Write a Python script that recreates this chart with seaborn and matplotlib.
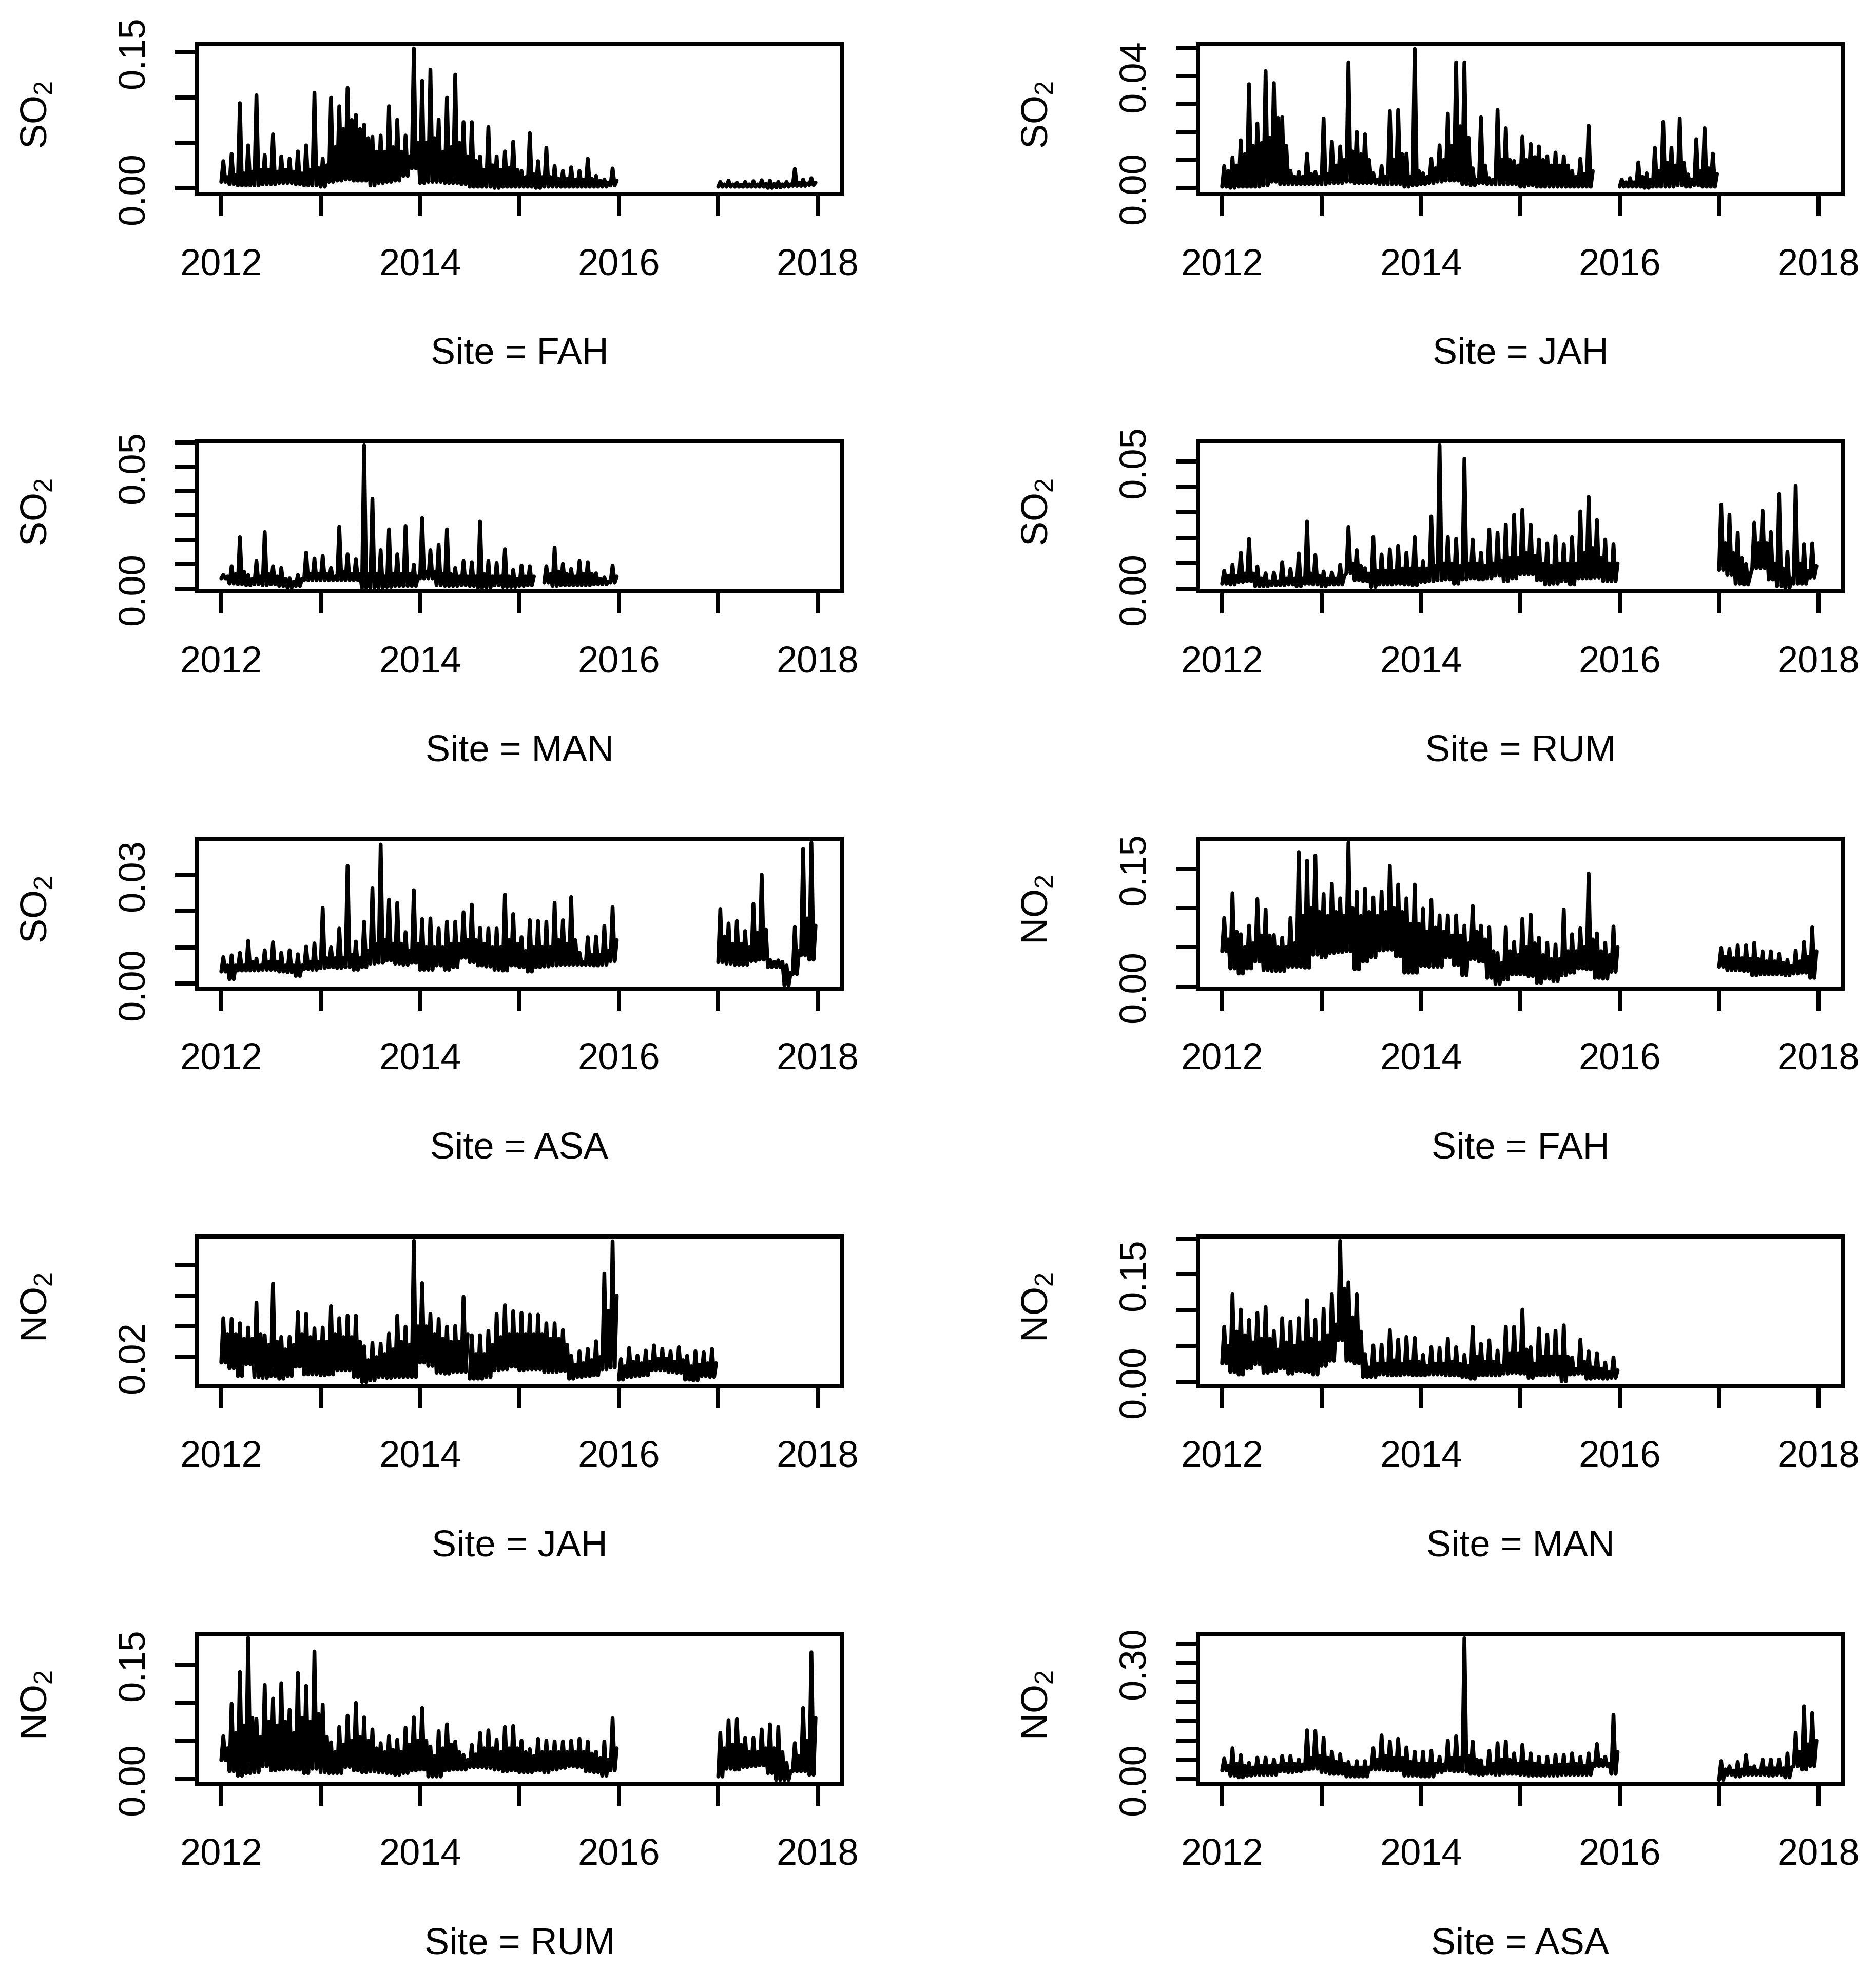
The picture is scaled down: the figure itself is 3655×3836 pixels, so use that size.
import numpy as np
import pandas as pd
import matplotlib
matplotlib.use("Agg")
import matplotlib.pyplot as plt
import seaborn as sns

# ------------- data: monthly high (spike), typical band top (mid) and low, in ppb -------------
# FAH SO2
FAH_SO2_A_START = 2012.0
FAH_SO2_A_HI = [29.6, 37.6, 93.5, 47.0, 102.2, 36.3, 59.1, 34.9, 32.3, 40.3, 47.0, 104.8,
                32.3, 99.5, 90.1, 110.2, 80.6, 69.9, 56.5, 57.8, 90.1, 75.3, 57.8, 153.8,
                118.3, 130.4, 75.3, 99.5, 125.0, 72.6, 72.6, 34.9, 67.2, 34.9, 40.3, 51.1,
                18.8, 60.5, 29.6, 44.4, 24.2, 18.8, 22.8, 18.8, 32.3, 13.4, 9.4, 21.5]
FAH_SO2_A_MID = [12, 14, 16, 18, 20, 20, 18, 20, 18, 16, 20, 22,
                 25, 45, 65, 75, 65, 55, 40, 40, 45, 40, 35, 50,
                 50, 55, 40, 45, 50, 35, 30, 20, 25, 20, 22, 20,
                 12, 15, 12, 12, 10, 10, 9, 9, 10, 8, 6, 8]
FAH_SO2_A_LO = [6.7, 4.0, 2.7, 2.7, 2.7, 4.0, 4.0, 5.4, 5.4, 4.0, 2.7, 2.7,
                1.3, 6.7, 8.1, 9.4, 8.1, 8.1, 2.7, 5.4, 6.7, 8.1, 13.4, 21.5,
                5.4, 6.7, 6.7, 5.4, 5.4, 4.0, 1.3, 1.3, 1.3, 0.0, 1.3, 1.3,
                1.3, 1.3, 0.0, 1.3, 1.3, 1.3, 1.3, 1.3, 1.3, 1.3, 1.3, 2.7]
FAH_SO2_B_START = 2017.0
FAH_SO2_B_HI = [6.7, 8.1, 5.9, 6.7, 7.5, 8.6, 8.1, 6.7, 6.7, 21.0, 9.4, 10.8]
FAH_SO2_B_MID = [4, 4, 3.5, 4, 4, 4.5, 4.5, 4, 4, 6, 5, 6]
FAH_SO2_B_LO = [1.3, 1.3, 1.3, 1.3, 1.3, 1.3, 0.0, 0.5, 1.3, 2.2, 2.2, 3.2]

# JAH SO2
JAH_SO2_A_START = 2012.0
JAH_SO2_A_HI = [7.8, 10.9, 17.0, 37.0, 23.0, 41.7, 37.4, 25.2, 6.1, 5.7, 12.2, 5.7,
                24.8, 16.5, 14.8, 44.8, 20.0, 19.1, 5.2, 7.8, 27.4, 27.8, 12.2, 49.6,
                5.2, 10.4, 15.2, 26.5, 44.8, 44.8, 7.0, 25.2, 3.5, 27.8, 21.3, 9.6,
                18.3, 15.7, 14.8, 11.3, 12.6, 11.3, 6.1, 10.4, 22.2]
JAH_SO2_A_MID = [6, 8, 12, 15, 16, 18, 25, 15, 4, 4, 5, 4,
                 5, 8, 10, 13, 12, 10, 3, 4, 10, 12, 4, 6,
                 4, 7, 10, 15, 22, 18, 3, 8, 3, 10, 10, 8,
                 10, 11, 10, 8, 8, 8, 4, 5, 6]
JAH_SO2_A_LO = [0.4, 0.0, 0.4, 0.4, 0.4, 0.9, 2.2, 1.3, 1.3, 1.3, 1.3, 1.3,
                1.3, 1.7, 1.7, 2.2, 1.7, 1.7, 1.7, 1.3, 1.3, 1.3, 0.4, 0.9,
                1.3, 1.7, 2.2, 2.6, 2.6, 1.3, 0.9, 1.7, 1.3, 1.3, 1.3, 1.3,
                0.4, 0.9, 0.4, 0.4, 0.4, 0.4, 0.4, 0.4, 0.4]
JAH_SO2_B_START = 2016.0
JAH_SO2_B_HI = [3.0, 3.5, 9.1, 5.2, 14.3, 23.5, 14.3, 24.8, 4.8, 17.4, 21.3, 12.2]
JAH_SO2_B_MID = [2, 2, 4, 3, 6, 9, 8, 9, 3, 6, 7, 5]
JAH_SO2_B_LO = [0.4, 0.4, 0.4, 0.0, 0.4, 0.4, 0.4, 0.9, 0.4, 0.9, 0.4, 0.4]

# MAN SO2
MAN_SO2_A_START = 2012.0
MAN_SO2_A_HI = [5.6, 9.2, 21.1, 5.6, 11.3, 23.2, 9.2, 8.5, 4.2, 5.6, 14.8, 12.3,
                13.4, 8.5, 25.4, 14.1, 12.0, 58.8, 36.8, 15.8, 24.3, 14.1, 25.7, 9.9,
                29.0, 15.8, 18.0, 24.3, 8.5, 11.3, 10.9, 27.5, 11.3, 10.6, 16.2, 7.7,
                9.5, 9.2]
MAN_SO2_A_MID = [5, 6, 7, 4, 5, 6, 5, 4, 3, 4, 6, 6,
                 6, 5, 7, 6, 6, 6, 6, 5, 6, 6, 6, 5,
                 7, 7, 6, 6, 5, 5, 5, 6, 5, 5, 5, 4,
                 5, 5]
MAN_SO2_A_LO = [4.2, 2.1, 1.8, 1.4, 1.8, 1.4, 1.8, 1.1, 0.4, 1.1, 3.5, 3.5,
                3.5, 3.5, 3.5, 3.5, 3.5, 0.4, 0.4, 0.4, 0.7, 1.1, 1.1, 1.1,
                4.2, 4.2, 1.4, 1.1, 1.1, 1.4, 1.1, 0.4, 0.4, 1.4, 0.7, 0.7,
                1.1, 1.4]
MAN_SO2_B_START = 2015.25
MAN_SO2_B_HI = [9.2, 16.9, 10.2, 8.1, 11.3, 10.9, 6.3, 4.6, 9.5]
MAN_SO2_B_MID = [6, 7, 6, 5, 6, 6, 4, 3, 5]
MAN_SO2_B_LO = [2.5, 1.1, 1.4, 1.4, 1.4, 1.4, 1.8, 1.8, 2.5]

# RUM SO2
RUM_SO2_A_START = 2012.0
RUM_SO2_A_HI = [7.1, 9.5, 14.2, 19.6, 8.8, 6.1, 6.4, 10.5, 7.8, 13.9, 26.4, 13.2,
                6.8, 6.4, 9.5, 24.3, 15.2, 8.1, 20.3, 13.5, 15.5, 16.9, 14.2, 20.3,
                10.8, 28.4, 56.4, 20.3, 19.6, 51.1, 19.3, 14.2, 23.3, 22.0, 25.3, 29.1,
                31.1, 25.3, 19.3, 17.9, 20.6, 17.6, 20.3, 30.4, 36.1, 27.0, 19.3, 17.6]
RUM_SO2_A_MID = [5, 5, 6, 6, 4, 3, 3, 4, 4, 4, 6, 5,
                 4, 4, 5, 10, 9, 6, 7, 7, 7, 8, 8, 8,
                 8, 9, 10, 10, 9, 10, 10, 9, 10, 11, 12, 12,
                 14, 13, 10, 9, 10, 10, 10, 14, 16, 12, 10, 10]
RUM_SO2_A_LO = [2.0, 1.7, 2.7, 3.0, 1.0, 1.0, 1.4, 1.4, 1.7, 1.0, 2.0, 1.7,
                1.0, 1.7, 1.7, 6.1, 3.4, 3.0, 0.7, 1.7, 1.7, 2.0, 1.7, 1.4,
                2.7, 3.0, 3.4, 3.7, 2.0, 3.7, 4.1, 3.7, 4.1, 5.1, 3.0, 4.1,
                5.7, 5.7, 3.4, 1.7, 2.0, 3.0, 1.7, 4.1, 4.1, 4.4, 3.0, 3.0]
RUM_SO2_B_START = 2017.0
RUM_SO2_B_HI = [33.1, 29.1, 22.0, 9.8, 26.0, 30.7, 22.3, 37.2, 14.5, 40.5, 17.6, 17.9]
RUM_SO2_B_MID = [18, 14, 12, 5, 18, 18, 10, 8, 4, 10, 7, 9]
RUM_SO2_B_LO = [7.4, 5.4, 2.0, 1.7, 8.1, 8.1, 3.7, 1.0, 0.3, 2.0, 2.0, 4.4]

# ASA SO2
ASA_SO2_A_START = 2012.0
ASA_SO2_A_HI = [7.3, 7.8, 8.5, 11.8, 6.9, 9.2, 11.4, 8.5, 9.2, 8.1, 10.2, 11.1,
                20.9, 10.0, 15.2, 32.5, 11.6, 17.1, 26.3, 38.4, 23.2, 22.3, 14.2, 25.8,
                17.8, 18.0, 15.2, 17.1, 17.1, 19.7, 21.8, 15.4, 15.2, 15.2, 24.6, 19.2,
                12.8, 17.5, 17.3, 17.1, 22.3, 17.5, 23.9, 8.5, 12.8, 13.0, 15.9, 21.1]
ASA_SO2_A_MID = [5, 5, 5, 6, 5, 6, 6, 5, 5, 5, 6, 6,
                 7, 7, 7, 8, 7, 9, 11, 12, 11, 11, 9, 11,
                 10, 10, 10, 11, 11, 12, 12, 11, 10, 10, 12, 11,
                 9, 10, 10, 10, 12, 11, 12, 6, 8, 8, 9, 12]
ASA_SO2_A_LO = [3.3, 1.2, 3.6, 3.6, 3.6, 3.8, 3.8, 3.3, 3.1, 2.1, 4.0, 3.8,
                4.3, 4.5, 4.3, 4.5, 3.8, 4.5, 5.5, 5.7, 6.4, 5.5, 5.2, 5.7,
                3.8, 3.8, 5.0, 3.8, 4.5, 7.1, 5.9, 5.0, 4.7, 3.8, 3.6, 5.0,
                4.5, 3.3, 4.5, 4.7, 5.0, 5.2, 5.2, 5.2, 5.2, 5.0, 5.2, 6.2]
ASA_SO2_B_START = 2017.0
ASA_SO2_B_HI = [20.6, 16.6, 17.3, 14.5, 22.0, 30.1, 6.6, 6.4, 5.0, 15.6, 37.2, 38.9]
ASA_SO2_B_MID = [13, 11, 11, 10, 14, 15, 6, 6, 3, 9, 18, 16]
ASA_SO2_B_LO = [5.9, 5.5, 5.2, 5.2, 6.2, 6.6, 4.5, 4.5, -0.5, 2.6, 7.8, 6.6]

# FAH NO2
FAH_NO2_A_START = 2012.0
FAH_NO2_A_HI = [87.3, 119.0, 66.6, 77.5, 111.4, 98.3, 65.5, 62.2, 87.3, 171.4, 160.5, 167.0,
                117.9, 131.0, 112.4, 183.4, 121.2, 124.5, 113.5, 121.2, 153.9, 129.9, 112.4, 129.9,
                99.3, 110.3, 90.6, 90.6, 90.6, 77.5, 102.6, 77.5, 75.3, 42.6, 75.3, 56.8,
                86.2, 91.7, 62.2, 55.7, 53.5, 98.3, 66.6, 74.2, 144.1, 67.7, 55.7, 76.4]
FAH_NO2_A_MID = [60, 70, 50, 55, 65, 65, 50, 50, 55, 90, 100, 95,
                 90, 95, 90, 100, 90, 95, 90, 95, 100, 95, 80, 80,
                 70, 75, 70, 65, 65, 55, 70, 60, 45, 30, 45, 40,
                 50, 55, 40, 35, 35, 45, 45, 50, 60, 45, 40, 50]
FAH_NO2_A_LO = [44.8, 22.9, 16.4, 22.9, 31.7, 20.7, 19.7, 19.7, 25.1, 25.1, 24.0, 40.4,
                37.1, 42.6, 43.7, 44.8, 21.8, 31.7, 37.1, 45.9, 46.9, 38.2, 17.5, 17.5,
                26.2, 25.1, 25.1, 37.1, 27.3, 14.2, 34.9, 31.7, 10.9, 3.3, 8.7, 15.3,
                15.3, 13.1, 4.4, 9.8, 6.6, 14.2, 17.5, 22.9, 21.8, 10.9, 9.8, 18.6]
FAH_NO2_B_START = 2017.0
FAH_NO2_B_HI = [49.1, 48.0, 52.4, 52.4, 55.7, 44.8, 44.8, 41.5, 33.8, 45.9, 56.8, 75.3]
FAH_NO2_B_MID = [38, 36, 36, 35, 35, 32, 32, 30, 26, 32, 38, 45]
FAH_NO2_B_LO = [25.1, 20.7, 20.7, 19.7, 14.2, 15.3, 15.3, 15.3, 14.2, 16.4, 17.5, 10.9]

# JAH NO2
JAH_NO2_A_START = 2012.0
JAH_NO2_A_HI = [45.3, 44.8, 42.0, 39.2, 55.3, 34.2, 67.8, 33.1, 33.1, 49.2, 48.1, 38.7,
                39.2, 53.1, 45.3, 47.0, 47.0, 27.0, 29.2, 28.7, 35.3, 47.0, 39.8, 95.6,
                68.1, 48.1, 44.8, 39.8, 40.3, 59.2]
JAH_NO2_A_MID = [35, 35, 32, 32, 35, 28, 30, 25, 28, 35, 33, 30,
                 30, 35, 33, 33, 30, 18, 20, 22, 25, 30, 28, 40,
                 40, 35, 32, 30, 30, 35]
JAH_NO2_A_LO = [16.4, 12.6, 7.6, 15.3, 7.0, 6.4, 7.6, 5.9, 7.6, 13.7, 8.7, 8.7,
                8.1, 8.7, 11.4, 11.4, 7.0, 3.7, 4.8, 7.0, 6.4, 7.0, 7.0, 7.0,
                16.4, 14.2, 9.8, 9.2, 10.3, 10.3]
JAH_NO2_B_START = 2014.5
JAH_NO2_B_HI = [34.2, 34.2, 37.0, 48.1, 53.7, 49.8,
                48.7, 47.6, 47.6, 42.0, 42.0, 37.6, 20.9, 23.7, 25.3, 30.3, 74.2, 95.3]
JAH_NO2_B_MID = [22, 22, 28, 33, 35, 35,
                 35, 35, 35, 32, 32, 28, 15, 16, 18, 20, 50, 60]
JAH_NO2_B_LO = [5.9, 5.9, 7.0, 11.4, 12.0, 13.7,
                11.4, 12.0, 12.0, 10.3, 10.3, 10.9, 5.9, 7.0, 7.6, 8.1, 12.0, 13.1]
JAH_NO2_C_START = 2016.0
JAH_NO2_C_HI = [18.7, 25.9, 20.9, 24.2, 27.6, 25.3, 23.7, 26.4, 20.9, 23.7, 23.1, 25.3]
JAH_NO2_C_MID = [14, 17, 16, 17, 19, 19, 17, 18, 14, 15, 16, 16]
JAH_NO2_C_LO = [5.3, 7.0, 7.6, 8.1, 11.4, 11.4, 10.3, 9.8, 5.3, 4.8, 7.6, 7.0]

# MAN NO2
MAN_NO2_A_START = 2012.0
MAN_NO2_A_HI = [76.9, 122.1, 100.7, 86.4, 96.0, 104.3, 71.0, 88.8, 84.0, 88.8, 113.8, 86.4,
                101.9, 122.1, 196.4, 138.8, 122.1, 38.8, 50.7, 51.9, 72.1, 59.0, 62.6, 61.4,
                37.6, 48.3, 47.1, 60.2, 48.3, 37.6, 76.9, 53.1, 57.9, 43.6, 76.9, 76.9,
                100.7, 48.3, 74.5, 66.2, 71.0, 78.8, 34.0, 59.0, 42.4, 40.0, 26.9, 34.0]
MAN_NO2_A_MID = [50, 70, 65, 55, 60, 60, 45, 55, 50, 55, 60, 55,
                 65, 80, 130, 90, 70, 20, 25, 25, 30, 25, 28, 28,
                 22, 25, 25, 28, 25, 22, 35, 28, 28, 22, 40, 40,
                 45, 25, 35, 35, 35, 35, 18, 28, 20, 18, 14, 16]
MAN_NO2_A_LO = [25.7, 13.8, 10.2, 18.6, 24.5, 12.6, 15.0, 18.6, 11.4, 15.0, 13.8, 10.2,
                22.1, 29.3, 57.9, 29.3, 25.7, 6.7, 6.7, 10.2, 9.0, 9.0, 10.2, 9.0,
                9.0, 10.2, 10.2, 9.0, 9.0, 6.7, 4.3, 9.0, 9.0, 9.0, 11.4, 12.6,
                11.4, 5.5, 9.0, 9.0, 10.2, 0.7, 10.2, 11.4, 4.3, 5.5, 4.3, 5.5]

# RUM NO2
RUM_NO2_A_START = 2012.0
RUM_NO2_A_HI = [55.8, 98.5, 140.1, 185.1, 78.3, 123.2, 105.2, 125.5, 90.6, 139.0, 122.1, 167.1,
                97.4, 47.9, 68.1, 82.8, 99.6, 80.5, 64.8, 46.8, 55.8, 51.3, 67.0, 80.5,
                92.9, 42.3, 62.5, 71.5, 49.0, 31.0, 44.5, 60.3, 63.6, 51.3, 68.1, 69.3,
                50.1, 38.9, 52.4, 50.1, 49.0, 49.0, 50.1, 52.4, 49.0, 35.5, 49.0, 79.4]
RUM_NO2_A_MID = [40, 60, 70, 80, 55, 75, 70, 75, 60, 80, 75, 85,
                 55, 35, 45, 50, 55, 50, 40, 35, 38, 35, 45, 50,
                 50, 30, 40, 45, 35, 25, 32, 40, 40, 35, 40, 40,
                 35, 30, 35, 35, 35, 35, 35, 35, 33, 27, 25, 40]
RUM_NO2_A_LO = [24.3, 9.7, 4.0, 7.4, 8.5, 16.4, 10.8, 11.9, 13.0, 11.9, 7.4, 13.0,
                8.5, 7.4, 7.4, 15.3, 10.8, 8.5, 9.7, 8.5, 7.4, 5.2, 7.4, 10.8,
                11.9, 2.9, 2.9, 10.8, 11.9, 11.9, 15.3, 15.3, 14.2, 11.9, 9.7, 10.8,
                8.5, 8.5, 10.8, 8.5, 11.9, 14.2, 16.4, 15.3, 9.7, 8.5, 4.0, 10.8]
RUM_NO2_B_START = 2017.0
RUM_NO2_B_HI = [60.3, 77.1, 78.3, 53.5, 53.5, 64.8, 71.5, 68.1, 20.9, 46.8, 92.9, 166.0]
RUM_NO2_B_MID = [40, 45, 45, 35, 35, 40, 40, 35, 10, 30, 50, 80]
RUM_NO2_B_LO = [2.9, 13.0, 11.9, 15.3, 16.4, 17.5, 7.4, -1.6, -1.6, 9.7, 9.7, 5.2]

# ASA NO2
ASA_NO2_A_START = 2012.0
ASA_NO2_A_HI = [53.1, 79.7, 62.0, 42.1, 55.4, 55.4, 50.9, 59.8, 59.8, 50.9, 126.2, 124.0,
                106.3, 70.9, 64.2, 44.3, 46.5, 46.5, 79.7, 112.9, 97.4, 104.1, 81.9, 70.9,
                70.9, 73.1, 57.6, 99.6, 110.7, 364.0, 97.4, 48.7, 73.1, 93.0, 97.4, 66.4,
                88.6, 66.4, 57.6, 57.6, 62.0, 62.0, 66.4, 57.6, 66.4, 90.8, 57.6, 166.1]
ASA_NO2_A_MID = [35, 40, 35, 30, 35, 35, 35, 40, 40, 38, 55, 60,
                 55, 45, 40, 30, 30, 30, 50, 60, 55, 55, 45, 40,
                 40, 40, 38, 55, 55, 60, 50, 30, 40, 50, 50, 40,
                 45, 40, 35, 35, 38, 38, 40, 35, 40, 50, 40, 70]
ASA_NO2_A_LO = [22.1, 8.9, 4.4, 8.9, 11.1, 11.1, 11.1, 19.9, 17.7, 19.9, 24.4, 26.6,
                17.7, 13.3, 13.3, 6.6, 6.6, 6.6, 24.4, 24.4, 22.1, 22.1, 8.9, 8.9,
                6.6, 6.6, 17.7, 22.1, 19.9, 19.9, 13.3, 11.1, 13.3, 11.1, 13.3, 13.3,
                11.1, 8.9, 8.9, 8.9, 8.9, 11.1, 11.1, 11.1, 11.1, 33.2, 33.2, 13.3]
ASA_NO2_B_START = 2017.0
ASA_NO2_B_HI = [46.5, 33.2, 44.3, 62.0, 33.2, 50.9, 50.9, 50.9, 66.4, 119.6, 188.2, 170.5]
ASA_NO2_B_MID = [25, 22, 25, 30, 22, 28, 28, 28, 30, 70, 90, 100]
ASA_NO2_B_LO = [-2.2, 11.1, 6.6, 11.1, 11.1, 11.1, 8.9, 11.1, 4.4, 33.2, 24.4, 33.2]

# ---------------- axis ticks and labels ----------------
X_TICKS = [2012, 2013, 2014, 2015, 2016, 2017, 2018]
X_LABELED = [2012, 2014, 2016, 2018]

SO2 = "SO$_2$"
NO2 = "NO$_2$"

# (pollutant label, site, segments, y ticks, labelled y ticks, y limits)
PANELS = [
    (SO2, "FAH", [(FAH_SO2_A_START, FAH_SO2_A_HI, FAH_SO2_A_MID, FAH_SO2_A_LO),
                  (FAH_SO2_B_START, FAH_SO2_B_HI, FAH_SO2_B_MID, FAH_SO2_B_LO)],
     [0, 0.05, 0.10, 0.15], [0, 0.15], (-0.0067, 0.1586)),
    (SO2, "JAH", [(JAH_SO2_A_START, JAH_SO2_A_HI, JAH_SO2_A_MID, JAH_SO2_A_LO),
                  (JAH_SO2_B_START, JAH_SO2_B_HI, JAH_SO2_B_MID, JAH_SO2_B_LO)],
     [0, 0.01, 0.02, 0.03, 0.04, 0.05], [0, 0.04], (-0.0022, 0.0513)),
    (SO2, "MAN", [(MAN_SO2_A_START, MAN_SO2_A_HI, MAN_SO2_A_MID, MAN_SO2_A_LO),
                  (MAN_SO2_B_START, MAN_SO2_B_HI, MAN_SO2_B_MID, MAN_SO2_B_LO)],
     [0, 0.01, 0.02, 0.03, 0.04, 0.05, 0.06], [0, 0.05], (-0.0011, 0.0604)),
    (SO2, "RUM", [(RUM_SO2_A_START, RUM_SO2_A_HI, RUM_SO2_A_MID, RUM_SO2_A_LO),
                  (RUM_SO2_B_START, RUM_SO2_B_HI, RUM_SO2_B_MID, RUM_SO2_B_LO)],
     [0, 0.01, 0.02, 0.03, 0.04, 0.05], [0, 0.05], (-0.0010, 0.0579)),
    (SO2, "ASA", [(ASA_SO2_A_START, ASA_SO2_A_HI, ASA_SO2_A_MID, ASA_SO2_A_LO),
                  (ASA_SO2_B_START, ASA_SO2_B_HI, ASA_SO2_B_MID, ASA_SO2_B_LO)],
     [0, 0.01, 0.02, 0.03], [0, 0.03], (-0.0014, 0.0400)),
    (NO2, "FAH", [(FAH_NO2_A_START, FAH_NO2_A_HI, FAH_NO2_A_MID, FAH_NO2_A_LO),
                  (FAH_NO2_B_START, FAH_NO2_B_HI, FAH_NO2_B_MID, FAH_NO2_B_LO)],
     [0, 0.05, 0.10, 0.15], [0, 0.15], (-0.0028, 0.1884)),
    (NO2, "JAH", [(JAH_NO2_A_START, JAH_NO2_A_HI, JAH_NO2_A_MID, JAH_NO2_A_LO),
                  (JAH_NO2_B_START, JAH_NO2_B_HI, JAH_NO2_B_MID, JAH_NO2_B_LO),
                  (JAH_NO2_C_START, JAH_NO2_C_HI, JAH_NO2_C_MID, JAH_NO2_C_LO)],
     [0.02, 0.04, 0.06, 0.08], [0.02], (0.0009, 0.0984)),
    (NO2, "MAN", [(MAN_NO2_A_START, MAN_NO2_A_HI, MAN_NO2_A_MID, MAN_NO2_A_LO)],
     [0, 0.05, 0.10, 0.15, 0.20], [0, 0.15], (-0.0064, 0.2026)),
    (NO2, "RUM", [(RUM_NO2_A_START, RUM_NO2_A_HI, RUM_NO2_A_MID, RUM_NO2_A_LO),
                  (RUM_NO2_B_START, RUM_NO2_B_HI, RUM_NO2_B_MID, RUM_NO2_B_LO)],
     [0, 0.05, 0.10, 0.15], [0, 0.15], (-0.0072, 0.1896)),
    (NO2, "ASA", [(ASA_NO2_A_START, ASA_NO2_A_HI, ASA_NO2_A_MID, ASA_NO2_A_LO),
                  (ASA_NO2_B_START, ASA_NO2_B_HI, ASA_NO2_B_MID, ASA_NO2_B_LO)],
     [0, 0.05, 0.10, 0.15, 0.20, 0.25, 0.30, 0.35], [0, 0.30], (-0.0133, 0.374)),
]


def segment_frame(segments):
    """Each month: low -> spike high -> low -> typical band top, in time order."""
    rows = []
    for k, (start, hi, mid, lo) in enumerate(segments):
        for i, (h, m, l) in enumerate(zip(hi, mid, lo)):
            t = start + i / 12.0
            rows.append((k, t, l / 1000.0))
            rows.append((k, t + 0.25 / 12.0, h / 1000.0))
            rows.append((k, t + 0.50 / 12.0, l / 1000.0))
            rows.append((k, t + 0.75 / 12.0, m / 1000.0))
    return pd.DataFrame(rows, columns=["seg", "year", "ppm"])


# ---------------- layout (pixels) ----------------
W, H = 3655, 3837
DPI = 300
PX = 72.0 / DPI  # points per pixel
COL_X = [(384, 1640), (2334, 3590)]
ROW_TOP = [87, 861, 1635, 2410, 3185]
BOX_H = 292
XLIM = (2011.757, 2018.243)

sns.set_theme(style="ticks")
plt.rcParams["font.family"] = ["Liberation Sans", "DejaVu Sans"]
plt.rcParams["mathtext.fontset"] = "custom"
plt.rcParams["mathtext.rm"] = "Liberation Sans"
plt.rcParams["mathtext.default"] = "regular"
plt.rcParams["axes.facecolor"] = "white"

FS = 17.3
fig = plt.figure(figsize=(W / DPI, H / DPI), dpi=DPI)

for idx, (ylab, site, segs, yt, ylab_t, ylim) in enumerate(PANELS):
    r, c = divmod(idx, 2)
    x0, x1 = COL_X[c]
    y0 = ROW_TOP[r]
    y1 = y0 + BOX_H
    ax = fig.add_axes([x0 / W, 1 - y1 / H, (x1 - x0) / W, BOX_H / H])
    df = segment_frame(segs)
    sns.lineplot(data=df, x="year", y="ppm", units="seg", estimator=None,
                 color="black", linewidth=7.5 * PX, ax=ax, legend=False)
    for ln in ax.get_lines():
        ln.set_solid_joinstyle("round")
        ln.set_solid_capstyle("round")
    ax.set_xlim(*XLIM)
    ax.set_ylim(*ylim)
    ax.set_xlabel("")
    ax.set_ylabel("")
    ax.set_xticks(X_TICKS)
    ax.set_xticklabels([str(t) if t in X_LABELED else "" for t in X_TICKS])
    ax.set_yticks(yt)
    ax.set_yticklabels([f"{t:.2f}" if any(np.isclose(t, l) for l in ylab_t) else "" for t in yt])
    for s in ax.spines.values():
        s.set_visible(True)
        s.set_linewidth(8 * PX)
        s.set_color("black")
    ax.tick_params(axis="both", direction="out", length=43 * PX, width=8 * PX,
                   labelsize=FS, color="black", labelcolor="black")
    ax.tick_params(axis="x", pad=61 * PX)
    ax.tick_params(axis="y", pad=46 * PX, labelrotation=90)
    for lbl in ax.get_yticklabels():
        lbl.set_va("center")
    ax.grid(False)

    # y label (rotated, baseline ~292 px left of the box)
    fig.text((x0 - 292) / W, 1 - ((y0 + y1) / 2 - 9) / H, ylab, rotation=90,
             rotation_mode="anchor", ha="center", va="baseline", fontsize=FS, color="black")
    # x label "Site = XXX"
    fig.text(((x0 + x1) / 2) / W, 1 - (y1 + 330) / H, f"Site = {site}",
             ha="center", va="baseline", fontsize=FS, color="black")

fig.savefig("out.png", dpi=DPI, facecolor="white")
